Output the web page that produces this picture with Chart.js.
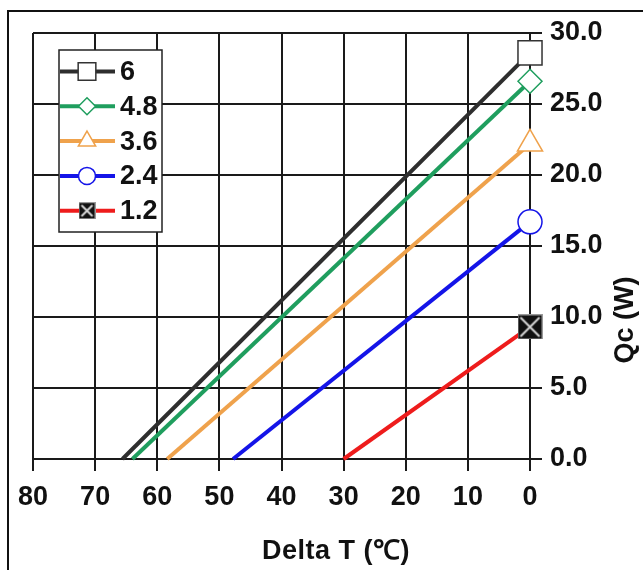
<!DOCTYPE html>
<html>
<head>
<meta charset="utf-8">
<script src="https://cdn.jsdelivr.net/npm/chart.js@4.4.1/dist/chart.umd.min.js"></script>
<style>
    html, body { margin: 0; padding: 0; background: #fff; }
    #wrap { width: 643px; height: 570px; }
</style>
</head>
<body>
<div id="wrap"><canvas id="chart" width="643" height="570"></canvas></div>
<script>

// =========================
// DATA
// =========================

const currents = ['6', '4.8', '3.6', '2.4', '1.2'];      // legend labels (A)
const deltaTMax = [65.6, 64.0, 58.4, 47.8, 30.0];        // x where Qc = 0
const qcMax = [28.6, 26.6, 22.2, 16.7, 9.3];             // Qc at Delta T = 0

const ticksX = [80, 70, 60, 50, 40, 30, 20, 10, 0];
const ticksY = [0, 5, 10, 15, 20, 25, 30];

// =========================
// STYLE
// =========================

const FAMILY = '"Liberation Sans", Arial, sans-serif';
const FONT = 'bold 27px ' + FAMILY;

const colors = ['#2e2e2e', '#1f9e5e', '#efa24c', '#1414e8', '#ee1c1c'];
const markerBorder = ['#333333', '#1f9e5e', '#efa24c', '#1414e8', '#888888'];

function crossBox(size) {
    const c = document.createElement('canvas');
    c.width = size;
    c.height = size;
    const g = c.getContext('2d');
    g.fillStyle = '#111';
    g.fillRect(0, 0, size, size);
    g.strokeStyle = '#999';
    g.lineWidth = 1;
    g.strokeRect(0.5, 0.5, size - 1, size - 1);
    g.strokeStyle = '#d8d8d8';
    g.lineWidth = 2;
    g.beginPath();
    g.moveTo(3, 3);
    g.lineTo(size - 3, size - 3);
    g.moveTo(size - 3, 3);
    g.lineTo(3, size - 3);
    g.stroke();
    return c;
}

const markers = ['rect', 'rectRot', 'triangle', 'circle', crossBox(25)];
const markerSize = [17, 12, 14.5, 12, 12];

const legendMarkers = ['rect', 'rectRot', 'triangle', 'circle', crossBox(17)];
const legendSize = [12.5, 8.5, 10, 8.5, 8];

// =========================
// PLUGINS
// =========================

const frame = {
    id: 'frame',
    beforeDraw(chart) {
        const ctx = chart.ctx;
        ctx.save();
        ctx.fillStyle = '#fff';
        ctx.fillRect(0, 0, chart.width, chart.height);
        ctx.strokeStyle = '#111';
        ctx.lineWidth = 2;
        ctx.beginPath();
        ctx.moveTo(8, chart.height);
        ctx.lineTo(8, 11);
        ctx.lineTo(chart.width, 11);
        ctx.stroke();
        ctx.restore();
    }
};

const titles = {
    id: 'titles',
    afterDraw(chart) {
        const ctx = chart.ctx;
        ctx.save();
        ctx.fillStyle = '#111';
        ctx.font = FONT;
        ctx.textAlign = 'center';
        ctx.textBaseline = 'middle';
        ctx.letterSpacing = '0.5px';
        ctx.fillText('Delta T (℃)', 336, 552);
        ctx.letterSpacing = '0px';
        ctx.translate(626, 320);
        ctx.rotate(-Math.PI / 2);
        ctx.fillText('Qc (W)', 0, 0);
        ctx.restore();
    }
};

const legendBox = {
    id: 'legendBox',
    afterDraw(chart) {
        const ctx = chart.ctx;
        ctx.save();
        ctx.fillStyle = '#fff';
        ctx.strokeStyle = '#222';
        ctx.lineWidth = 1.5;
        ctx.fillRect(59, 50, 103, 182);
        ctx.strokeRect(59, 50, 103, 182);

        currents.forEach((label, i) => {
            const y = 71.5 + i * 34.8;

            ctx.strokeStyle = colors[i];
            ctx.lineWidth = 4;
            ctx.beginPath();
            ctx.moveTo(60, y);
            ctx.lineTo(115, y);
            ctx.stroke();

            ctx.fillStyle = '#fff';
            ctx.strokeStyle = markerBorder[i];
            ctx.lineWidth = 1.5;
            Chart.helpers.drawPoint(ctx, {
                pointStyle: legendMarkers[i],
                radius: legendSize[i],
                borderWidth: 1.5,
                rotation: 0
            }, 87, y);

            ctx.fillStyle = '#111';
            ctx.font = FONT;
            ctx.textAlign = 'left';
            ctx.textBaseline = 'middle';
            ctx.fillText(label, 120, y + 1);
        });
        ctx.restore();
    }
};

// =========================
// CHART
// =========================

const datasets = currents.map((label, i) => ({
    label: label,
    data: [
        { x: deltaTMax[i], y: 0 },
        { x: 0, y: qcMax[i] }
    ],
    borderColor: colors[i],
    borderWidth: 4,
    pointRadius: [0, markerSize[i]],
    pointHoverRadius: [0, markerSize[i]],
    pointStyle: markers[i],
    pointBackgroundColor: '#fff',
    pointBorderColor: markerBorder[i],
    pointBorderWidth: 1.5,
    clip: false
}));

const grid = {
    color: '#1a1a1a',
    lineWidth: 2,
    tickLength: 12,
    drawTicks: true
};

new Chart(document.getElementById('chart'), {
    type: 'line',
    data: { datasets },
    options: {
        responsive: false,
        animation: false,
        layout: { padding: { left: 33, top: 33, right: 0, bottom: 0 } },
        plugins: {
            legend: { display: false },
            tooltip: { enabled: false }
        },
        scales: {
            x: {
                type: 'linear',
                reverse: true,
                min: 0,
                max: 80,
                grid: grid,
                border: { color: '#1a1a1a', width: 2 },
                afterBuildTicks: (scale) => {
                    scale.ticks = ticksX.map(v => ({ value: v }));
                },
                afterFit: (scale) => { scale.height = 111; },
                ticks: {
                    color: '#111',
                    font: { family: FAMILY, size: 27, weight: 'bold' },
                    padding: 10,
                    maxRotation: 0,
                    autoSkip: false
                }
            },
            y: {
                type: 'linear',
                position: 'right',
                min: 0,
                max: 30,
                grid: grid,
                border: { color: '#1a1a1a', width: 2 },
                afterBuildTicks: (scale) => {
                    scale.ticks = ticksY.map(v => ({ value: v }));
                },
                afterFit: (scale) => { scale.width = 113; },
                ticks: {
                    color: '#111',
                    font: { family: FAMILY, size: 27, weight: 'bold' },
                    padding: 8,
                    callback: (v) => v.toFixed(1)
                }
            }
        }
    },
    plugins: [frame, titles, legendBox]
});
</script>
</body>
</html>
